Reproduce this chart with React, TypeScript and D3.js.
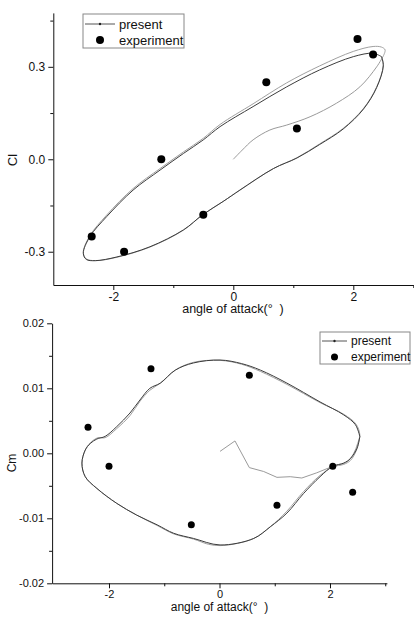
import React, { useEffect, useRef } from 'react';
import * as d3 from 'd3';

const FONT = '"Liberation Sans", Arial, Helvetica, sans-serif';

// ---- lift coefficient (top panel)
const clExpAlpha = [-2.36, -1.82, -1.2, -0.5, 0.55, 1.06, 2.07, 2.33];
const clExpValue = [-0.251, -0.3, 0.0, -0.18, 0.25, 0.1, 0.39, 0.34];

const clTransAlpha = [0, 0.15, 0.33, 0.61, 0.89, 1.28, 1.72, 2.11, 2.39, 2.5];
const clTransValue = [0, 0.03, 0.063, 0.095, 0.111, 0.138, 0.182, 0.235, 0.3, 0.335];

const clLoop1Alpha = [2.5, 2.53, 2.47, 2.33, 2.0, 1.44, 0.89, 0.33, -0.22, -0.5, -0.83, -1.22, -1.67, -2.11, -2.39, -2.5, -2.45, -2.3, -1.94, -1.39, -0.83, -0.51, -0.17, 0.11, 0.67, 1.06, 1.44, 1.83, 2.17, 2.39, 2.5, 2.47];
const clLoop1Value = [0.335, 0.355, 0.364, 0.366, 0.35, 0.303, 0.248, 0.18, 0.113, 0.068, 0.024, -0.03, -0.095, -0.181, -0.248, -0.302, -0.323, -0.329, -0.318, -0.285, -0.23, -0.18, -0.137, -0.1, -0.03, 0.005, 0.05, 0.1, 0.165, 0.235, 0.305, 0.333];

const clLoop2Alpha = [2.47, 2.33, 2.0, 1.44, 0.89, 0.33, -0.22, -0.5, -0.83, -1.22, -1.67, -2.11, -2.39, -2.5, -2.45, -2.3, -1.94, -1.39, -0.83, -0.51, -0.17, 0.11, 0.67, 1.06, 1.44, 1.83, 2.17, 2.39, 2.5, 2.47];
const clLoop2Value = [0.333, 0.344, 0.333, 0.29, 0.235, 0.171, 0.106, 0.063, 0.019, -0.035, -0.1, -0.186, -0.251, -0.305, -0.325, -0.329, -0.317, -0.284, -0.229, -0.18, -0.137, -0.1, -0.03, 0.004, 0.048, 0.098, 0.163, 0.233, 0.303, 0.333];

// ---- moment coefficient (bottom panel)
const cmExpAlpha = [-2.38, -2.0, -1.24, -0.51, 0.54, 1.04, 2.05, 2.41];
const cmExpValue = [0.004, -0.002, 0.013, -0.011, 0.012, -0.008, -0.002, -0.006];

const cmTransAlpha = [0.01, 0.28, 0.54, 0.8, 1.04, 1.28, 1.49, 1.76, 2.05];
const cmTransValue = [0.0003, 0.0019, -0.0022, -0.0028, -0.0037, -0.0036, -0.0038, -0.003, -0.002];

const cmLoop1Alpha = [2.05, 2.31, 2.43, 2.5, 2.54, 2.47, 2.25, 1.82, 1.22, 0.74, 0.4, 0.01, -0.47, -0.8, -1.07, -1.26, -1.44, -1.62, -1.86, -2.07, -2.2, -2.34, -2.43, -2.49, -2.43, -2.22, -1.86, -1.5, -1.13, -0.83, -0.47, -0.2, 0.01, 0.3, 0.62, 0.92, 1.22, 1.52, 1.82, 2.05, 2.25, 2.37, 2.48, 2.54];
const cmLoop1Value = [-0.002, -0.0013, 0.0, 0.0015, 0.0028, 0.0045, 0.006, 0.0078, 0.0106, 0.0126, 0.0137, 0.0143, 0.014, 0.0128, 0.0108, 0.0097, 0.008, 0.0058, 0.0038, 0.0024, 0.0024, 0.0016, 0.0005, -0.0015, -0.0036, -0.0054, -0.0077, -0.0095, -0.0111, -0.0124, -0.0132, -0.014, -0.0142, -0.0139, -0.0131, -0.0113, -0.0089, -0.0059, -0.0034, -0.0021, -0.0017, -0.0011, 0.0005, 0.0026];

const cmLoop2Alpha = [2.54, 2.46, 2.25, 1.82, 1.22, 0.74, 0.4, 0.01, -0.47, -0.8, -1.07, -1.26, -1.44, -1.62, -1.86, -2.07, -2.22, -2.34, -2.43, -2.49, -2.43, -2.22, -1.86, -1.5, -1.13, -0.83, -0.47, 0.01, 0.62, 0.92, 1.22, 1.52, 1.82, 2.05, 2.25, 2.37, 2.49, 2.54];
const cmLoop2Value = [0.0026, 0.0044, 0.0059, 0.0079, 0.0108, 0.0128, 0.0138, 0.01435, 0.0139, 0.0128, 0.0108, 0.01, 0.0082, 0.0062, 0.0041, 0.0026, 0.0022, 0.0015, 0.0005, -0.0015, -0.0036, -0.0054, -0.0077, -0.0095, -0.011, -0.0123, -0.0131, -0.0141, -0.0131, -0.0113, -0.0092, -0.0062, -0.0036, -0.002, -0.0015, -0.0008, 0.0008, 0.0026];

const xMajor = [-2, 0, 2];
const xMinor = [-1, 1, 3];
const clMajor = [-0.3, 0, 0.3];
const clMinor = [-0.15, 0.15, 0.45];
const cmMajor = [-0.02, -0.01, 0, 0.01, 0.02];
const cmMinor = [-0.015, -0.005, 0.005, 0.015];

const legendLabels = ['present', 'experiment'];
const xTitle = 'angle of attack(\u00b0  )';

const zip = (a, b) => a.map((v, i) => [v, b[i]]);

const Panel = ({ cfg }) => {
  const xAxisRef = useRef(null);
  const yAxisRef = useRef(null);

  const x = d3.scaleLinear().domain(cfg.xDomain).range(cfg.xRange);
  const y = d3.scaleLinear().domain(cfg.yDomain).range(cfg.yRange);

  useEffect(() => {
    const gx = d3.select(xAxisRef.current);
    gx.selectAll('*').remove();
    gx.append('g').call(
      d3.axisBottom(x).tickValues(xMajor).tickSize(5).tickPadding(2).tickSizeOuter(0).tickFormat((d) => String(d))
    );
    gx.append('g').call(d3.axisBottom(x).tickValues(xMinor).tickSize(3).tickSizeOuter(0).tickFormat(() => ''))
      .select('.domain').remove();

    const gy = d3.select(yAxisRef.current);
    gy.selectAll('*').remove();
    gy.append('g').call(
      d3.axisLeft(y).tickValues(cfg.yMajor).tickSize(5).tickSizeOuter(0).tickFormat((d) => d.toFixed(cfg.digits))
    );
    gy.append('g').call(d3.axisLeft(y).tickValues(cfg.yMinor).tickSize(3).tickSizeOuter(0).tickFormat(() => ''))
      .select('.domain').remove();

    [gx, gy].forEach((g) => {
      g.selectAll('text').attr('font-family', FONT).attr('font-size', cfg.tickFont).attr('fill', '#111');
      g.selectAll('line, path').attr('stroke', '#111').attr('stroke-width', 1);
      g.selectAll('g').attr('font-family', null).attr('font-size', null);
    });
  }, [cfg]);

  const smooth = d3.line().x((d) => x(d[0])).y((d) => y(d[1])).curve(d3.curveCatmullRom.alpha(0.5));
  const straight = d3.line().x((d) => x(d[0])).y((d) => y(d[1]));

  const lg = cfg.legend;

  return (
    <g>
      <path d={cfg.transSmooth ? smooth(cfg.trans) : straight(cfg.trans)} fill="none" stroke="#9a9a9a" strokeWidth={1} />
      <path d={smooth(cfg.loop1)} fill="none" stroke="#a0a0a0" strokeWidth={1} />
      <path d={smooth(cfg.loop2)} fill="none" stroke="#3c3c3c" strokeWidth={1} />
      {cfg.exp.map((d, i) => (
        <circle key={i} cx={x(d[0])} cy={y(d[1])} r={cfg.dotR} fill="#000" />
      ))}
      <g ref={xAxisRef} transform={`translate(0,${cfg.yRange[0]})`} />
      <g ref={yAxisRef} transform={`translate(${cfg.xRange[0]},0)`} />
      <text
        transform={`translate(${cfg.yTitlePos[0]},${cfg.yTitlePos[1]}) rotate(-90)`}
        textAnchor="middle"
        fontFamily={FONT}
        fontSize={cfg.titleFont}
        fill="#111"
      >
        {cfg.yTitle}
      </text>
      <text
        x={cfg.xTitlePos[0]}
        y={cfg.xTitlePos[1]}
        textAnchor="middle"
        fontFamily={FONT}
        fontSize={cfg.xTitleFont}
        fill="#111"
        style={{ whiteSpace: 'pre' }}
      >
        {xTitle}
      </text>
      <g transform={`translate(${lg.x},${lg.y})`} fontFamily={FONT} fontSize={lg.font} fill="#111">
        <rect x={0} y={0} width={lg.w} height={lg.h} fill="#fff" stroke="#888" strokeWidth={1} />
        <line x1={2} x2={lg.sample} y1={lg.row1} y2={lg.row1} stroke="#555" strokeWidth={1} />
        <circle cx={(2 + lg.sample) / 2} cy={lg.row1} r={1.2} fill="#222" />
        <circle cx={(2 + lg.sample) / 2} cy={lg.row2} r={cfg.dotR} fill="#000" />
        <text x={lg.sample + 4} y={lg.row1 + lg.font * 0.36}>{legendLabels[0]}</text>
        <text x={lg.sample + 4} y={lg.row2 + lg.font * 0.36}>{legendLabels[1]}</text>
      </g>
    </g>
  );
};

const clCfg = {
  xDomain: [-3, 3],
  xRange: [53.3, 413.3],
  yDomain: [-0.408, 0.475],
  yRange: [285, 12.9],
  yMajor: clMajor,
  yMinor: clMinor,
  digits: 1,
  tickFont: 12,
  titleFont: 13,
  xTitleFont: 12.5,
  dotR: 4,
  yTitle: 'Cl',
  yTitlePos: [16.5, 160],
  xTitlePos: [233, 313],
  trans: zip(clTransAlpha, clTransValue),
  transSmooth: true,
  loop1: zip(clLoop1Alpha, clLoop1Value),
  loop2: zip(clLoop2Alpha, clLoop2Value),
  exp: zip(clExpAlpha, clExpValue),
  legend: { x: 83, y: 14, w: 101, h: 34, sample: 32, row1: 10, row2: 26, font: 13 },
};

const cmCfg = {
  xDomain: [-3.03, 3.03],
  xRange: [52.1, 386.9],
  yDomain: [-0.02, 0.02],
  yRange: [583.3, 323.3],
  yMajor: cmMajor,
  yMinor: cmMinor,
  digits: 2,
  tickFont: 11,
  titleFont: 12,
  xTitleFont: 12,
  dotR: 3.5,
  yTitle: 'Cm',
  yTitlePos: [16, 463],
  xTitlePos: [219.5, 611],
  trans: zip(cmTransAlpha, cmTransValue),
  transSmooth: false,
  loop1: zip(cmLoop1Alpha, cmLoop1Value),
  loop2: zip(cmLoop2Alpha, cmLoop2Value),
  exp: zip(cmExpAlpha, cmExpValue),
  legend: { x: 320, y: 332, w: 90, h: 32, sample: 27, row1: 9, row2: 25, font: 12 },
};

const App = () => (
  <svg
    width={414}
    height={619}
    style={{ position: 'absolute', left: 0, top: 0, background: '#fff' }}
  >
    <rect width={414} height={619} fill="#fff" />
    <Panel cfg={clCfg} />
    <Panel cfg={cmCfg} />
  </svg>
);

export default App;
